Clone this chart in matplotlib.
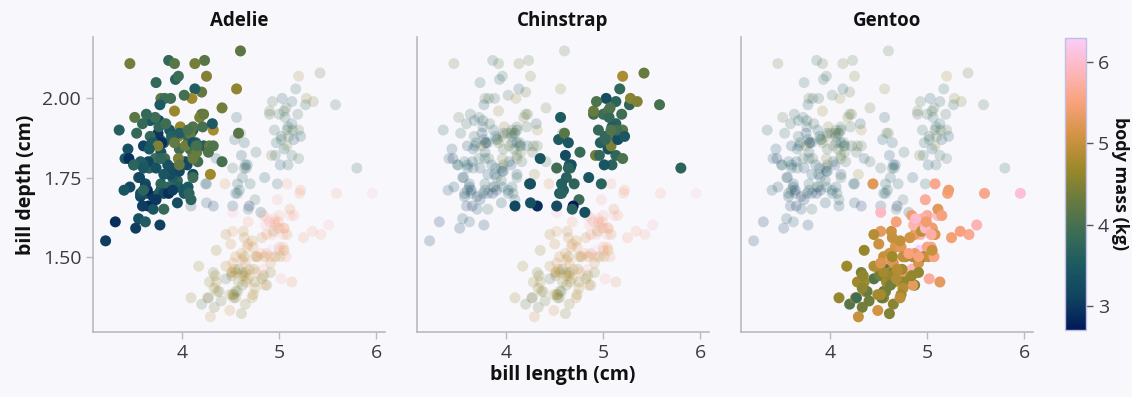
import matplotlib.pyplot as plt
from matplotlib.colors import LinearSegmentedColormap, Normalize
from matplotlib.cm import ScalarMappable

# palmer penguins: bill length (mm), bill depth (mm), body mass (g)
adelie_len = [39.1, 39.5, 40.3, 36.7, 39.3, 38.9, 39.2, 34.1, 42.0, 37.8, 37.8, 41.1, 38.6, 34.6, 36.6,
              38.7, 42.5, 34.4, 46.0, 37.8, 37.7, 35.9, 38.2, 38.8, 35.3, 40.6, 40.5, 37.9, 40.5, 39.5,
              37.2, 39.5, 40.9, 36.4, 39.2, 38.8, 42.2, 37.6, 39.8, 36.5, 40.8, 36.0, 44.1, 37.0, 39.6,
              41.1, 37.5, 36.0, 42.3, 39.6, 40.1, 35.0, 42.0, 34.5, 41.4, 39.0, 40.6, 36.5, 37.6, 35.7,
              41.3, 37.6, 41.1, 36.4, 41.6, 35.5, 41.1, 35.9, 41.8, 33.5, 39.7, 39.6, 45.8, 35.5, 42.8,
              40.9, 37.2, 36.2, 42.1, 34.6, 42.9, 36.7, 35.1, 37.3, 41.3, 36.3, 36.9, 38.3, 38.9, 35.7,
              41.1, 34.0, 39.6, 36.2, 40.8, 38.1, 40.3, 33.1, 43.2, 35.0, 41.0, 37.7, 37.8, 37.9, 39.7,
              38.6, 38.2, 38.1, 43.2, 38.1, 45.6, 39.7, 42.2, 39.6, 42.7, 38.6, 37.3, 35.7, 41.1, 36.2,
              37.7, 40.2, 41.4, 35.2, 40.6, 38.8, 41.5, 39.0, 44.1, 38.5, 43.1, 36.8, 37.5, 38.1, 41.1,
              35.6, 40.2, 37.0, 39.7, 40.2, 40.6, 32.1, 40.7, 37.3, 39.0, 39.2, 36.6, 36.0, 37.8, 36.0,
              41.5]
adelie_dep = [18.7, 17.4, 18.0, 19.3, 20.6, 17.8, 19.6, 18.1, 20.2, 17.1, 17.3, 17.6, 21.2, 21.1, 17.8,
              19.0, 20.7, 18.4, 21.5, 18.3, 18.7, 19.2, 18.1, 17.2, 18.9, 18.6, 17.9, 18.6, 18.9, 16.7,
              18.1, 17.8, 18.9, 17.0, 21.1, 20.0, 18.5, 19.3, 19.1, 18.0, 18.4, 18.5, 19.7, 16.9, 18.8,
              19.0, 18.9, 17.9, 21.2, 17.7, 18.9, 17.9, 19.5, 18.1, 18.6, 17.5, 18.8, 16.6, 19.1, 16.9,
              21.1, 17.0, 18.2, 17.1, 18.0, 16.2, 19.1, 16.6, 19.4, 19.0, 18.4, 17.2, 18.9, 17.5, 18.5,
              16.8, 19.4, 16.1, 19.1, 17.2, 17.6, 18.8, 19.4, 17.8, 20.3, 19.5, 18.6, 19.2, 18.8, 18.0,
              18.1, 17.1, 18.1, 17.3, 18.9, 18.6, 18.5, 16.1, 18.5, 17.9, 20.0, 16.0, 20.0, 18.6, 18.9,
              17.2, 20.0, 17.0, 19.0, 16.5, 20.3, 17.7, 19.5, 20.7, 18.3, 17.0, 20.5, 17.0, 18.6, 17.2,
              19.8, 17.0, 18.5, 15.9, 19.0, 17.6, 18.3, 17.1, 18.0, 17.9, 19.2, 18.5, 18.5, 17.6, 17.5,
              17.5, 20.1, 16.5, 17.9, 17.1, 17.2, 15.5, 17.0, 16.8, 18.7, 18.6, 18.4, 17.8, 18.1, 17.1,
              18.5]
adelie_mass = [3750, 3800, 3250, 3450, 3650, 3625, 4675, 3475, 4250, 3300, 3700, 3200, 3800, 4400, 3700,
               3450, 4500, 3325, 4200, 3400, 3600, 3800, 3950, 3800, 3800, 3550, 3200, 3150, 3950, 3250,
               3900, 3300, 3900, 3325, 4150, 3950, 3550, 3300, 4650, 3150, 3900, 3100, 4400, 3000, 4600,
               3425, 2975, 3450, 4150, 3500, 4300, 3450, 4050, 2900, 3700, 3550, 3800, 2850, 3750, 3150,
               4400, 3600, 4050, 2850, 3950, 3350, 4100, 3050, 4450, 3600, 3900, 3550, 4150, 3700, 4250,
               3700, 3900, 3550, 4000, 3200, 4700, 3800, 4200, 3350, 3550, 3800, 3500, 3950, 3600, 3550,
               4300, 3400, 4450, 3300, 4300, 3700, 4350, 2900, 4100, 3725, 4725, 3075, 4250, 2925, 3550,
               3750, 3900, 3175, 4775, 3825, 4600, 3200, 4275, 3900, 4075, 2900, 3775, 3350, 3325, 3150,
               3500, 3450, 3875, 3050, 4000, 3275, 4300, 3050, 4000, 3325, 3500, 3500, 4475, 3425, 3900,
               3175, 3975, 3400, 4250, 3400, 3475, 3050, 3725, 3000, 3650, 4250, 3475, 3450, 3750, 3700,
               4000]

chinstrap_len = [46.5, 50.0, 51.3, 45.4, 52.7, 45.2, 46.1, 51.3, 46.0, 51.3, 46.6, 51.7, 47.0, 52.0, 45.9,
                 50.5, 50.3, 58.0, 46.4, 49.2, 42.4, 48.5, 43.2, 50.6, 46.7, 52.0, 50.5, 49.5, 46.4, 52.8,
                 40.9, 54.2, 42.5, 51.0, 49.7, 47.5, 47.6, 52.0, 46.9, 53.5, 49.0, 46.2, 50.9, 45.5, 50.9,
                 50.8, 50.1, 49.0, 51.5, 49.8, 48.1, 51.4, 45.7, 50.7, 42.5, 52.2, 45.2, 49.3, 50.2, 45.6,
                 51.9, 46.8, 45.7, 55.8, 43.5, 49.6, 50.8, 50.2]
chinstrap_dep = [17.9, 19.5, 19.2, 18.7, 19.8, 17.8, 18.2, 18.2, 18.9, 19.9, 17.8, 20.3, 17.3, 18.1, 17.1,
                 19.6, 20.0, 17.8, 18.6, 18.2, 17.3, 17.5, 16.6, 19.4, 17.9, 19.0, 18.4, 19.0, 17.8, 20.0,
                 16.6, 20.8, 16.7, 18.8, 18.6, 16.8, 18.3, 20.7, 16.6, 19.9, 19.5, 17.5, 19.1, 17.0, 17.9,
                 18.5, 17.9, 19.6, 18.7, 17.3, 16.4, 19.0, 17.3, 19.7, 17.3, 18.8, 16.6, 19.9, 18.8, 19.4,
                 19.5, 16.5, 17.0, 19.8, 18.1, 18.2, 19.0, 18.7]
chinstrap_mass = [3500, 3900, 3650, 3525, 3725, 3950, 3250, 3750, 4150, 3700, 3800, 3775, 3700, 4050, 3575,
                  4050, 3300, 3700, 3450, 4400, 3600, 3400, 2900, 3800, 3300, 4150, 3400, 3800, 3700, 4550,
                  3200, 4300, 3350, 4100, 3600, 3900, 3850, 4800, 2700, 4500, 3950, 3650, 3550, 3500, 3675,
                  4450, 3400, 4300, 3250, 3675, 3325, 3950, 3600, 4050, 3350, 3450, 3250, 4050, 3800, 3525,
                  3950, 3650, 3650, 4000, 3400, 3775, 4100, 3775]

gentoo_len = [46.1, 50.0, 48.7, 50.0, 47.6, 46.5, 45.4, 46.7, 43.3, 46.8, 40.9, 49.0, 45.5, 48.4, 45.8,
              49.3, 42.0, 49.2, 46.2, 48.7, 50.2, 45.1, 46.5, 46.3, 42.9, 46.1, 44.5, 47.8, 48.2, 50.0,
              47.3, 42.8, 45.1, 59.6, 49.1, 48.4, 42.6, 44.4, 44.0, 48.7, 42.7, 49.6, 45.3, 49.6, 50.5,
              43.6, 45.5, 50.5, 44.9, 45.2, 46.6, 48.5, 45.1, 50.1, 46.5, 45.0, 43.8, 45.5, 43.2, 50.4,
              45.3, 46.2, 45.7, 54.3, 45.8, 49.8, 46.2, 49.5, 43.5, 50.7, 47.7, 46.4, 48.2, 46.5, 46.4,
              48.6, 47.5, 51.1, 45.2, 45.2, 49.1, 52.5, 47.4, 50.0, 44.9, 50.8, 43.4, 51.3, 47.5, 52.1,
              47.5, 52.2, 45.5, 49.5, 44.5, 50.8, 49.4, 46.9, 48.4, 51.1, 48.5, 55.9, 47.2, 49.1, 47.3,
              46.8, 41.7, 53.4, 43.3, 48.1, 50.5, 49.8, 43.5, 51.5, 46.2, 55.1, 44.5, 48.8, 47.2, 46.8,
              50.4, 45.2, 49.9]
gentoo_dep = [13.2, 16.3, 14.1, 15.2, 14.5, 13.5, 14.6, 15.3, 13.4, 15.4, 13.7, 16.1, 13.7, 14.6, 14.6,
              15.7, 13.5, 15.2, 14.5, 15.1, 14.3, 14.5, 14.5, 15.8, 13.1, 15.1, 14.3, 15.0, 14.3, 15.3,
              15.3, 14.2, 14.5, 17.0, 14.8, 16.3, 13.7, 17.3, 13.6, 15.7, 13.7, 16.0, 13.7, 15.0, 15.9,
              13.9, 13.9, 15.9, 13.3, 15.8, 14.2, 14.1, 14.4, 15.0, 14.4, 15.4, 13.9, 15.0, 14.5, 15.3,
              13.8, 14.9, 13.9, 15.7, 14.2, 16.8, 14.4, 16.2, 14.2, 15.0, 15.0, 15.6, 15.6, 14.8, 15.0,
              16.0, 14.2, 16.3, 13.8, 16.4, 14.5, 15.6, 14.6, 15.9, 13.8, 17.3, 14.4, 14.2, 14.0, 17.0,
              15.0, 17.1, 14.5, 16.1, 14.7, 15.7, 15.8, 14.6, 14.4, 16.5, 15.0, 17.0, 15.5, 15.0, 13.8,
              16.1, 14.7, 15.8, 14.0, 15.1, 15.2, 15.9, 15.2, 16.3, 14.1, 16.0, 15.7, 16.2, 13.7, 14.3,
              15.7, 14.8, 16.1]
gentoo_mass = [4500, 5700, 4450, 5700, 5400, 4550, 4800, 5200, 4400, 5150, 4650, 5550, 4650, 5850, 4200,
               5850, 4150, 6300, 4800, 5350, 5700, 5000, 4400, 5050, 5000, 5100, 4100, 5650, 4600, 5550,
               5250, 4700, 5050, 6050, 5150, 5400, 4950, 5250, 4350, 5350, 3950, 5700, 4300, 4750, 5550,
               4900, 4200, 5400, 5100, 5300, 4850, 5300, 4400, 5000, 4900, 5050, 4300, 5000, 4450, 5550,
               4200, 5300, 4400, 5650, 4700, 5700, 4650, 5800, 4700, 5550, 4750, 5000, 5100, 5200, 4700,
               5800, 4600, 6000, 4750, 5950, 4625, 5450, 4725, 5350, 4750, 5600, 4600, 5300, 4875, 5550,
               4950, 5400, 4750, 5650, 4850, 5200, 4925, 4875, 4625, 5250, 4850, 5600, 4975, 5500, 4725,
               5500, 4700, 5500, 4575, 5500, 5000, 5950, 4650, 5500, 4375, 5850, 4875, 6000, 4925, 4850,
               5750, 5200, 5400]

species = ["Adelie", "Chinstrap", "Gentoo"]
lengths = [adelie_len, chinstrap_len, gentoo_len]
depths = [adelie_dep, chinstrap_dep, gentoo_dep]
masses = [adelie_mass, chinstrap_mass, gentoo_mass]

# batlow-ish
batlow = LinearSegmentedColormap.from_list("batlow", [
    "#011959", "#104360", "#1c5a62", "#3c6d56", "#687b3e",
    "#9d892b", "#d29343", "#f8a17b", "#fdb7bc", "#faccfa"])
norm = Normalize(2.7, 6.3)

BG = "#f7f7fc"
SPINE = "#b9b9c2"
TXT = "#3a3a42"
plt.rcParams["font.family"] = ["Open Sans", "DejaVu Sans"]

fig = plt.figure(figsize=(11.32, 3.97), dpi=100)
fig.patch.set_facecolor(BG)

all_x = [v / 10 for s in lengths for v in s]
all_y = [v / 10 for s in depths for v in s]
all_c = [v / 1000 for s in masses for v in s]

lefts = [93, 417, 741]
for i, name in enumerate(species):
    ax = fig.add_axes([lefts[i] / 1132, 65 / 397, 292 / 1132, 295 / 397])
    ax.set_facecolor(BG)
    # everyone, faded
    ax.scatter(all_x, all_y, c=all_c, cmap=batlow, norm=norm, s=62,
               alpha=0.2, linewidths=0)
    ax.scatter([v / 10 for v in lengths[i]], [v / 10 for v in depths[i]],
               c=[v / 1000 for v in masses[i]], cmap=batlow, norm=norm,
               s=62, linewidths=0)
    ax.set_xlim(3.08, 6.09)
    ax.set_ylim(1.262, 2.194)
    ax.set_xticks([4, 5, 6])
    ax.set_xticklabels(["4", "5", "6"])
    for sp in ("top", "right"):
        ax.spines[sp].set_visible(False)
    for sp in ("left", "bottom"):
        ax.spines[sp].set_color(SPINE)
        ax.spines[sp].set_linewidth(1.2)
    ax.tick_params(color=SPINE, labelcolor=TXT, labelsize=14,
                   length=5, width=1)
    if i == 0:
        ax.set_yticks([1.5, 1.75, 2.0])
        ax.set_yticklabels(["1.50", "1.75", "2.00"])
        ax.set_ylabel("bill depth (cm)", fontsize=14, fontweight="bold",
                      color="#111111", labelpad=5)
    else:
        ax.set_yticks([])
    if i == 1:
        ax.set_xlabel("bill length (cm)", fontsize=14, fontweight="bold",
                      color="#111111", labelpad=2)
    ax.set_title(name, fontsize=13.5, fontweight="bold", color="#111111", pad=8)

cax = fig.add_axes([1065 / 1132, 67 / 397, 21 / 1132, 292 / 397])
cb = fig.colorbar(ScalarMappable(norm=norm, cmap=batlow), cax=cax)
cb.set_ticks([3, 4, 5, 6])
cb.outline.set_edgecolor("#c4bfe0")
cb.outline.set_linewidth(1)
cax.tick_params(color="#55555e", labelcolor=TXT, labelsize=14,
                length=5, width=1)
cax.text(2.6, 0.5, "body mass (kg)", transform=cax.transAxes, rotation=-90,
         ha="center", va="center", fontsize=13, fontweight="bold",
         color="#111111", clip_on=False)

fig.savefig("out.png", dpi=100, facecolor=BG)
